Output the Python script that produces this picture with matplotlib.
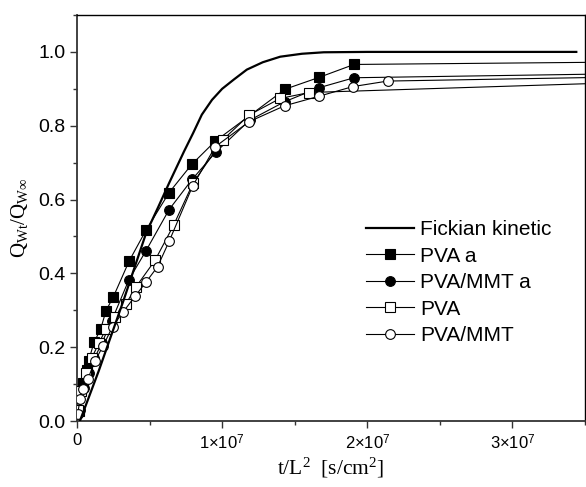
import matplotlib
matplotlib.use("Agg")
import matplotlib.pyplot as plt
from matplotlib.ticker import MultipleLocator, FixedLocator
import numpy as np

plt.rcParams['font.family'] = ['Liberation Sans', 'DejaVu Sans']
plt.rcParams['mathtext.fontset'] = 'custom'
plt.rcParams['mathtext.rm'] = 'Liberation Serif'
plt.rcParams['mathtext.it'] = 'Liberation Serif:italic'
plt.rcParams['mathtext.sf'] = 'Liberation Sans'

SCALE = 1e7

# Fickian kinetic curve (x in units of 1e7 s/cm^2)
fick_x = [0.02, 0.15, 0.32, 0.40, 0.477, 0.56, 0.635, 0.737, 0.80, 0.86, 0.93, 1.00, 1.08, 1.17, 1.28, 1.40, 1.55, 1.70, 2.0, 3.44]
fick_y = [0.0, 0.136, 0.326, 0.42, 0.51, 0.58, 0.645, 0.73, 0.78, 0.83, 0.87, 0.90, 0.925, 0.952, 0.972, 0.987, 0.995, 0.999, 1.0, 1.0]

pva_a_x = [0.016, 0.044, 0.067, 0.08, 0.117, 0.163, 0.2, 0.25, 0.36, 0.477, 0.635, 0.79, 0.952, 1.434, 1.668, 1.909, 3.6]
pva_a_y = [0.027, 0.104, 0.138, 0.163, 0.213, 0.249, 0.299, 0.336, 0.434, 0.518, 0.619, 0.695, 0.758, 0.899, 0.931, 0.966, 0.972]

pvammt_a_x = [0.02, 0.05, 0.08, 0.12, 0.17, 0.239, 0.358, 0.475, 0.635, 0.794, 0.955, 1.19, 1.43, 1.668, 1.909, 3.6]
pvammt_a_y = [0.03, 0.09, 0.13, 0.17, 0.21, 0.272, 0.383, 0.461, 0.573, 0.655, 0.728, 0.815, 0.865, 0.903, 0.930, 0.94]

pva_x = [0.01, 0.03, 0.06, 0.10, 0.15, 0.20, 0.261, 0.337, 0.404, 0.537, 0.665, 0.80, 1.003, 1.186, 1.40, 1.60, 3.6]
pva_y = [0.03, 0.08, 0.13, 0.17, 0.21, 0.25, 0.283, 0.317, 0.362, 0.435, 0.53, 0.645, 0.761, 0.829, 0.874, 0.89, 0.915]

pvammt_x = [0.005, 0.021, 0.039, 0.074, 0.124, 0.181, 0.245, 0.319, 0.40, 0.475, 0.555, 0.635, 0.796, 0.952, 1.186, 1.43, 1.668, 1.90, 2.14, 3.6]
pvammt_y = [0.02, 0.059, 0.086, 0.113, 0.163, 0.204, 0.256, 0.296, 0.338, 0.376, 0.418, 0.487, 0.636, 0.743, 0.811, 0.854, 0.880, 0.906, 0.921, 0.931]

xticks = [0, 1, 2, 3]
xticklabels = ['0', r'1×10$^{\mathsf{7}}$', r'2×10$^{\mathsf{7}}$', r'3×10$^{\mathsf{7}}$']

fig = plt.figure(figsize=(5.86, 4.87), dpi=100)
W, H = 586, 487
ax = fig.add_axes([77 / W, 1 - 421 / H, (585 - 77) / W, (421 - 15) / H])

def sx(v):
    return np.array(v) * SCALE

ax.plot(sx(fick_x), fick_y, color='black', lw=1.6, label='Fickian kinetic', zorder=5)

ms = 7
common = dict(color='black', lw=0.8, markersize=ms, markeredgewidth=0.8, clip_on=True)
ax.plot(sx(pva_a_x), pva_a_y, marker='s', markerfacecolor='black', markeredgecolor='black',
        markevery=slice(0, len(pva_a_x) - 1), label='PVA a', zorder=4, **common)
ax.plot(sx(pvammt_a_x), pvammt_a_y, marker='o', markerfacecolor='black', markeredgecolor='black',
        markevery=slice(0, len(pvammt_a_x) - 1), label='PVA/MMT a', zorder=4, **common)
ax.plot(sx(pva_x), pva_y, marker='s', markerfacecolor='white', markeredgecolor='black',
        markevery=slice(0, len(pva_x) - 1), label='PVA', zorder=4, **common)
ax.plot(sx(pvammt_x), pvammt_y, marker='o', markerfacecolor='white', markeredgecolor='black',
        markevery=slice(0, len(pvammt_x) - 1), label='PVA/MMT', zorder=4, **common)

ax.set_xlim(0, 3.5 * SCALE)
ax.set_ylim(0, 1.1)

ax.xaxis.set_major_locator(FixedLocator([t * SCALE for t in xticks]))
ax.set_xticklabels(xticklabels)
ax.xaxis.set_minor_locator(MultipleLocator(0.5 * SCALE))
ax.yaxis.set_major_locator(MultipleLocator(0.2))
ax.yaxis.set_minor_locator(MultipleLocator(0.1))
ax.yaxis.set_major_formatter(plt.FuncFormatter(lambda v, p: f'{v:.1f}'))

ax.tick_params(which='major', direction='out', length=5, width=1, color='#333333')
ax.tick_params(axis='x', which='major', labelsize=12)
ax.tick_params(axis='y', which='major', labelsize=14)
ax.tick_params(which='minor', direction='out', length=3, width=1, color='#333333')
ax.tick_params(top=False, right=False, which='both')

for s in ['left', 'bottom']:
    ax.spines[s].set_linewidth(1.3)
    ax.spines[s].set_color('#333333')
for s in ['top', 'right']:
    ax.spines[s].set_linewidth(1.0)
    ax.spines[s].set_color('black')

ax.set_xlabel(r'$\mathrm{t/L^2\ \ [s/cm^2]}$', fontsize=15.5, labelpad=3)
ax.set_ylabel(r'$\mathrm{Q_{Wt}/Q_{W\infty}}$', fontsize=15, labelpad=6)

leg = ax.legend(loc='upper left', bbox_to_anchor=(0.56, 0.505), frameon=False, fontsize=15,
                handlelength=2.3, handletextpad=0.3, labelspacing=0.36, borderaxespad=0,
                borderpad=0.2)

fig.savefig('out.png', dpi=100)
